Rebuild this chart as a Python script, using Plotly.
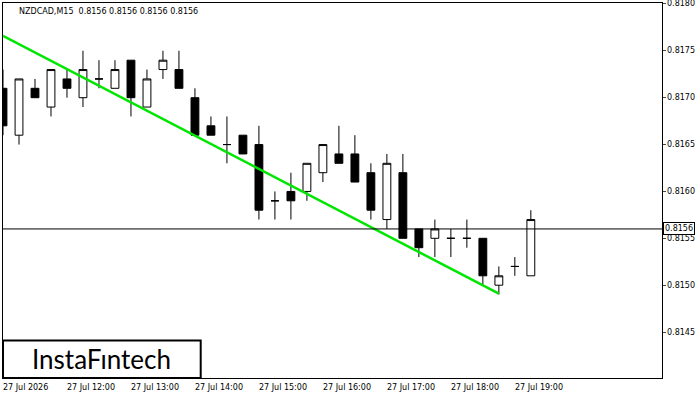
import plotly.graph_objects as go

times = ["11:00","11:15","11:30","11:45","12:00","12:15","12:30","12:45","13:00","13:15","13:30","13:45",
         "14:00","14:15","14:30","14:45","15:00","15:15","15:30","15:45","16:00","16:15","16:30","16:45",
         "17:00","17:15","17:30","17:45","18:00","18:15","18:30","18:45","19:00","19:15"]
opens  = [.8171,.8166,.8171,.8169,.8172,.8170,.8172,.8171,.8174,.8169,.8173,.8173,
          .8170,.8167,.8165,.8166,.8165,.8159,.8160,.8160,.8162,.8164,.8164,.8162,
          .8157,.8162,.8156,.8155,.8155,.8155,.8155,.8150,.8152,.8151]
highs  = [.8173,.8172,.8172,.8173,.8173,.8175,.8174,.8174,.8174,.8173,.8175,.8175,
          .8171,.8168,.8168,.8166,.8167,.8160,.8162,.8163,.8165,.8167,.8166,.8163,
          .8164,.8164,.8156,.8157,.8156,.8157,.8155,.8152,.8153,.8158]
lows   = [.8166,.8165,.8170,.8168,.8170,.8169,.8171,.8171,.8168,.8169,.8172,.8171,
          .8166,.8166,.8163,.8164,.8157,.8157,.8157,.8159,.8161,.8163,.8161,.8157,
          .8156,.8155,.8153,.8153,.8153,.8154,.8150,.8149,.8151,.8151]
closes = [.8167,.8172,.8170,.8173,.8171,.8173,.8172,.8173,.8170,.8172,.8174,.8171,
          .8166,.8166,.8165,.8164,.8158,.8159,.8159,.8163,.8165,.8163,.8161,.8158,
          .8163,.8155,.8154,.8156,.8155,.8155,.8151,.8151,.8152,.8157]
trend_x = [0, 31]
trend_y = [0.81766, 0.81491]
current = 0.8156
tick_pos = [0, 4, 8, 12, 16, 20, 24, 28, 32]
tick_text = ["27 Jul 2026","27 Jul 12:00","27 Jul 13:00","27 Jul 14:00","27 Jul 15:00",
             "27 Jul 16:00","27 Jul 17:00","27 Jul 18:00","27 Jul 19:00"]
ytick_vals = [0.8145,0.8150,0.8155,0.8160,0.8165,0.8170,0.8175,0.8180]

F = "DejaVu Sans"
idx = list(range(len(times)))
fig = go.Figure()
fig.add_trace(go.Candlestick(x=idx, open=opens, high=highs, low=lows, close=closes,
    increasing=dict(fillcolor="white", line=dict(color="black", width=1)),
    decreasing=dict(fillcolor="black", line=dict(color="black", width=1)),
    whiskerwidth=0, showlegend=False, hoverinfo="skip"))
fig.add_trace(go.Scatter(x=trend_x, y=trend_y, mode="lines",
    line=dict(color="#00e600", width=2.5), showlegend=False, hoverinfo="skip"))
fig.add_hline(y=current, line=dict(color="black", width=1))

for p, t in zip(tick_pos, tick_text):
    fig.add_annotation(x=p, y=0, xref="x", yref="paper", yanchor="top", xanchor="left",
                       text=t, showarrow=False, font=dict(size=8, color="black", family=F),
                       xshift=-2, yshift=-3)
for v in ytick_vals:
    fig.add_annotation(x=1, y=v, xref="paper", yref="y", xanchor="left", text=f"{v:.4f}",
                       showarrow=False, font=dict(size=8, color="black", family=F), xshift=3)
fig.add_annotation(x=1, y=current, xref="paper", yref="y", xanchor="left", text="0.8156",
                   showarrow=False, bgcolor="white", bordercolor="black", borderwidth=1, borderpad=1,
                   font=dict(size=8, color="black", family=F), xshift=1)
fig.add_annotation(x=0.022, y=0.995, xref="paper", yref="paper", xanchor="left", yanchor="top",
                   text="NZDCAD,M15  0.8156 0.8156 0.8156 0.8156", showarrow=False,
                   font=dict(size=8, color="black", family=F))
fig.add_shape(type="rect", xref="paper", yref="paper", x0=0, x1=0.3, y0=0, y1=0.1,
              line=dict(color="black", width=2), fillcolor="white")
fig.add_annotation(x=0.15, y=0.05, xref="paper", yref="paper", xanchor="center", yanchor="middle",
                   text="InstaFıntech", showarrow=False,
                   font=dict(size=26, color="black", family="Lato"))

fig.update_layout(width=700, height=400, margin=dict(l=3, r=38, t=3, b=22, autoexpand=False),
    plot_bgcolor="white", paper_bgcolor="white",
    xaxis=dict(range=[0, 41.2], showgrid=False, rangeslider=dict(visible=False), showticklabels=False,
               showline=True, linecolor="black", mirror=True, ticks="", automargin=False),
    yaxis=dict(range=[0.81401, 0.81801], side="right", tickvals=ytick_vals, showticklabels=False,
               showgrid=False, showline=True, linecolor="black", mirror=True, ticks="outside",
               ticklen=3, automargin=False))
fig.write_html("out.html", config={"displayModeBar": False},
               post_script="document.body.style.margin='0';document.body.style.overflow='hidden';")
